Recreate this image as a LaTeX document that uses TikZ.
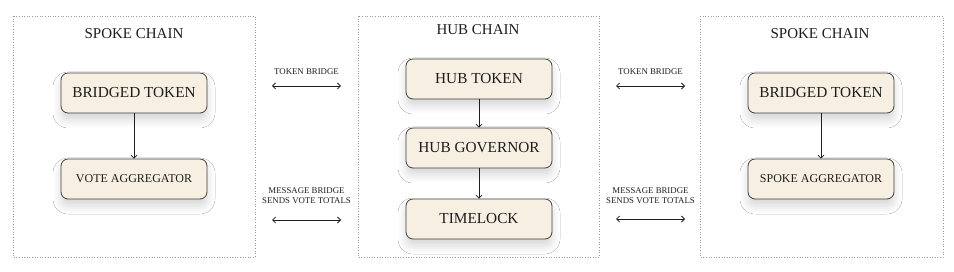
\documentclass[tikz,border=0pt]{standalone}
\usepackage{fontspec}
\setmainfont{Liberation Serif}
\usetikzlibrary{arrows.meta,shadows.blur}
\definecolor{cream}{HTML}{F7EFE2}
\definecolor{ink}{HTML}{1E1E1E}
\definecolor{frame}{HTML}{9A9A9A}
\tikzset{
  chainbox/.style={draw=frame, dotted, line width=0.6pt},
  chaintitle/.style={text=ink, font=\fontsize{15}{17}\selectfont, inner sep=0pt},
  compbox/.style={draw=ink!85, fill=cream, rounded corners=7pt, line width=0.8pt,
     minimum width=146pt, minimum height=40pt, inner sep=0pt, text=ink,
     blur shadow={shadow xshift=0pt, shadow yshift=-7pt, shadow opacity=16, shadow blur steps=10, shadow blur radius=8pt}},
  bigtxt/.style={font=\fontsize{15.3}{17}\selectfont},
  smalltxt/.style={font=\fontsize{12}{14}\selectfont},
  flow/.style={draw=ink, line width=0.7pt, -{Straight Barb[length=3pt,width=6pt]}},
  bridge/.style={draw=ink, line width=0.8pt, {Straight Barb[length=3pt,width=6pt]}-{Straight Barb[length=3pt,width=6pt]}},
  bridgelabel/.style={text=ink, font=\fontsize{8.8}{10.2}\selectfont, align=center, inner sep=0pt}
}
\begin{document}
\begin{tikzpicture}[x=1pt,y=-1pt]
\useasboundingbox[fill=white] (0,0) rectangle (954,272);
% containers
\draw[chainbox] (13,16) rectangle (255,257);
\draw[chainbox] (358,16) rectangle (599,257);
\draw[chainbox] (700,16) rectangle (943,257);
\node[chaintitle] (t1) at (134,34) {SPOKE CHAIN};
\node[chaintitle] (t2) at (478,30) {HUB CHAIN};
\node[chaintitle] (t3) at (820,34) {SPOKE CHAIN};
% left spoke
\node[compbox,bigtxt] (lbt) at (134,93) {BRIDGED TOKEN};
\node[compbox,smalltxt] (lva) at (134,179) {VOTE AGGREGATOR};
% hub
\node[compbox,bigtxt] (ht) at (479,79) {HUB TOKEN};
\node[compbox,bigtxt] (hg) at (479,148) {HUB GOVERNOR};
\node[compbox,bigtxt] (tl) at (479,219) {TIMELOCK};
% right spoke
\node[compbox,bigtxt] (rbt) at (821,93) {BRIDGED TOKEN};
\node[compbox,smalltxt] (rsa) at (821,179) {SPOKE AGGREGATOR};
% internal flows
\draw[flow] (lbt) -- (lva);
\draw[flow] (ht) -- (hg);
\draw[flow] (hg) -- (tl);
\draw[flow] (rbt) -- (rsa);
% bridges
\coordinate (a1) at (272,86); \coordinate (a2) at (341,86);
\coordinate (b1) at (272,220); \coordinate (b2) at (341,220);
\coordinate (c1) at (616,86); \coordinate (c2) at (685,86);
\coordinate (d1) at (616,219); \coordinate (d2) at (685,219);
\draw[bridge] (a1) -- (a2);
\draw[bridge] (b1) -- (b2);
\draw[bridge] (c1) -- (c2);
\draw[bridge] (d1) -- (d2);
\node[bridgelabel] (la) at (306.5,72) {TOKEN BRIDGE};
\node[bridgelabel] (lb) at (306.5,196) {MESSAGE BRIDGE\\SENDS VOTE TOTALS};
\node[bridgelabel] (lc) at (650.5,72) {TOKEN BRIDGE};
\node[bridgelabel] (ld) at (650.5,196) {MESSAGE BRIDGE\\SENDS VOTE TOTALS};
\end{tikzpicture}
\end{document}
